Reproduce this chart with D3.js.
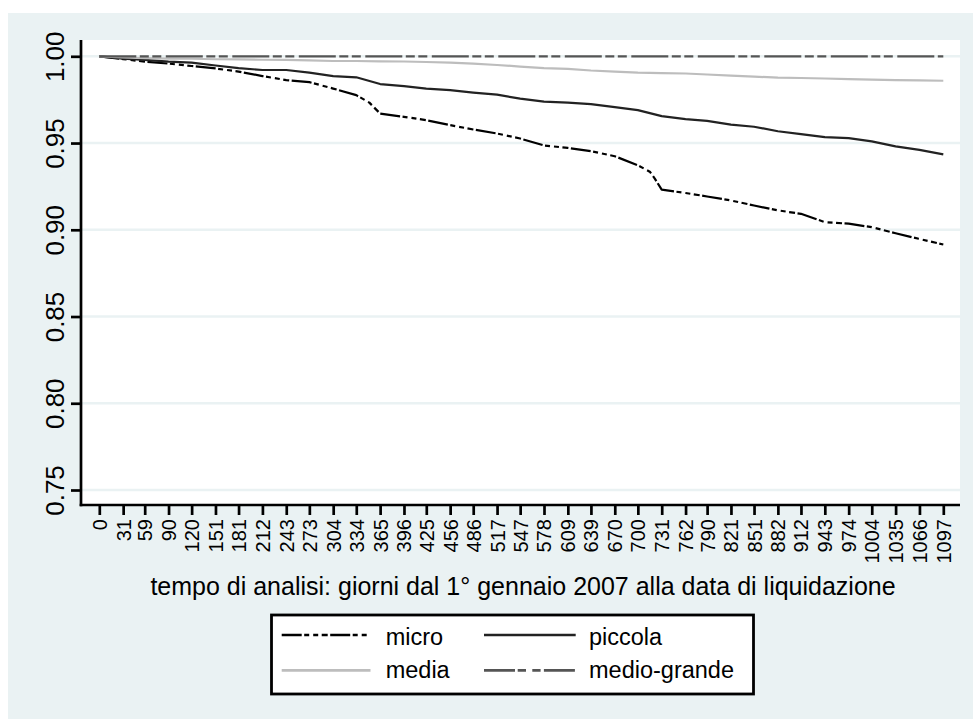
<!DOCTYPE html>
<html>
<head>
<meta charset="utf-8">
<script src="https://cdn.jsdelivr.net/npm/d3@7"></script>
<style>
  html, body { margin: 0; padding: 0; background: #fff; }
  svg { display: block; font-family: "Liberation Sans", Arial, sans-serif; }
</style>
</head>
<body>
<svg id="chart" width="973" height="719"></svg>
<script>
// ---- data ----
const tickDays = [0,31,59,90,120,151,181,212,243,273,304,334,365,396,425,456,486,517,547,578,609,639,670,700,731,762,790,821,851,882,912,943,974,1004,1035,1066,1097];
const tickLabels = ["0","31","59","90","120","151","181","212","243","273","304","334","365","396","425","456","486","517","547","578","609","639","670","700","731","762","790","821","851","882","912","943","974","1004","1035","1066","1097"];
const yTicks = [0.75, 0.80, 0.85, 0.90, 0.95, 1.00];

const microDays = [0,31,59,90,120,151,181,212,243,273,304,334,351,365,396,425,456,486,517,547,578,609,639,670,700,716,722,731,762,790,821,851,882,912,943,974,1004,1035,1065,1097];
const microVals = [1.0,0.9984,0.9969,0.9958,0.9944,0.993,0.9912,0.9886,0.9863,0.9851,0.9814,0.9776,0.9733,0.967,0.9651,0.9632,0.9603,0.9578,0.9555,0.9526,0.9486,0.9472,0.9453,0.9424,0.9372,0.9333,0.9295,0.9231,0.9212,0.9192,0.9169,0.914,0.9112,0.9092,0.9044,0.9035,0.9015,0.898,0.8948,0.8915];

const piccolaDays = tickDays;
const piccolaVals = [1.0,0.9987,0.9979,0.9969,0.9964,0.9947,0.9932,0.9921,0.9921,0.9906,0.9886,0.9879,0.984,0.9828,0.9814,0.9805,0.9791,0.9779,0.9756,0.9739,0.9733,0.9724,0.9707,0.969,0.9655,0.9638,0.9628,0.9606,0.9594,0.9568,0.9551,0.9534,0.9528,0.951,0.9481,0.9461,0.9435];

const mediaDays = tickDays;
const mediaVals = [1.0,0.9993,0.999,0.9987,0.9986,0.9983,0.9982,0.998,0.9979,0.9976,0.9973,0.9973,0.9971,0.997,0.9967,0.9964,0.9958,0.995,0.9941,0.9932,0.9927,0.9918,0.9912,0.9906,0.9903,0.9901,0.9895,0.9889,0.9883,0.9877,0.9875,0.9872,0.9869,0.9866,0.9863,0.9861,0.9859];

const grandeDays = [0, 1097];
const grandeVals = [1.0, 1.0];

const seriesNames = ["micro", "piccola", "media", "medio-grande"];
const xTitle = "tempo di analisi: giorni dal 1° gennaio 2007 alla data di liquidazione";

// ---- styles ----
const styles = {
  "micro":        { color: "#000000", dash: "20,2.5,5,4,5,3.5,6,2.5", legDash: "20,2.5,5,4,5,3.5,6,2.5" },
  "piccola":      { color: "#222222", dash: null, legDash: null },
  "media":        { color: "#bdbdbd", dash: null, legDash: null },
  "medio-grande": { color: "#555555", dash: "37,3.5,9,3.5,9,4.5", legDash: "31,2.7,8.3,6.3,8.3,3.3" }
};

const series = [
  { name: "micro", days: microDays, vals: microVals },
  { name: "piccola", days: piccolaDays, vals: piccolaVals },
  { name: "media", days: mediaDays, vals: mediaVals },
  { name: "medio-grande", days: grandeDays, vals: grandeVals }
];

// ---- layout ----
const W = 973, H = 719;
const plot = { left: 81, right: 960, top: 40, bottom: 505 };
const svg = d3.select("#chart");

svg.append("rect").attr("x", 0).attr("y", 0).attr("width", W).attr("height", H).attr("fill", "#ffffff");
svg.append("rect").attr("x", 8).attr("y", 13).attr("width", W - 8).attr("height", H - 13).attr("fill", "#eaf2f3");
svg.append("rect").attr("x", plot.left).attr("y", plot.top)
  .attr("width", plot.right - plot.left).attr("height", plot.bottom - plot.top).attr("fill", "#ffffff");

// x: day 0 at 99.3 px, day 1097 at 943.3 px
const pxPerDay = (943.3 - 99.3) / 1097;
const x = d3.scaleLinear()
  .domain([(plot.left - 99.3) / pxPerDay, (plot.right - 99.3) / pxPerDay])
  .range([plot.left, plot.right]);
const y = d3.scaleLinear().domain([0.75, 1.0]).range([490, 56.3]);

// gridlines
svg.append("g").selectAll("line").data(yTicks).join("line")
  .attr("x1", plot.left).attr("x2", plot.right)
  .attr("y1", d => y(d)).attr("y2", d => y(d))
  .attr("stroke", "#eaf2f3").attr("stroke-width", 2.5);

// lines
const lineGen = d3.line().x(d => x(d[0])).y(d => y(d[1]));
const gLines = svg.append("g");
series.forEach(s => {
  const pts = s.days.map((d, i) => [d, s.vals[i]]);
  const st = styles[s.name];
  gLines.append("path")
    .attr("d", lineGen(pts))
    .attr("fill", "none")
    .attr("stroke", st.color)
    .attr("stroke-width", 2.2)
    .attr("stroke-dasharray", st.dash)
    .attr("stroke-linejoin", "round");
});

// y axis
const yAxis = d3.axisLeft(y).tickValues(yTicks).tickFormat(d3.format(".2f")).tickSize(10).tickSizeOuter(0);
const gy = svg.append("g").attr("transform", `translate(${plot.left},0)`).call(yAxis);
gy.select(".domain").remove();
gy.selectAll(".tick line").attr("stroke", "#000").attr("stroke-width", 2.7);
gy.selectAll(".tick text")
  .attr("x", 0).attr("dy", 0)
  .attr("transform", "translate(-17.5,0) rotate(-90)")
  .attr("text-anchor", "middle")
  .attr("font-size", 26)
  .attr("font-family", "'Liberation Sans', Arial, sans-serif")
  .attr("fill", "#000");
svg.append("line").attr("x1", plot.left).attr("x2", plot.left)
  .attr("y1", plot.top).attr("y2", plot.bottom + 1.3)
  .attr("stroke", "#000").attr("stroke-width", 2.7);

// x axis
const xAxis = d3.axisBottom(x).tickValues(tickDays).tickFormat((d, i) => tickLabels[i]).tickSize(10).tickSizeOuter(0);
const gx = svg.append("g").attr("transform", `translate(0,${plot.bottom})`).call(xAxis);
gx.select(".domain").remove();
gx.selectAll(".tick line").attr("stroke", "#000").attr("stroke-width", 2.7);
gx.selectAll(".tick text")
  .attr("y", 0).attr("dy", 0)
  .attr("transform", "translate(7,14) rotate(-90)")
  .attr("text-anchor", "end")
  .attr("font-size", 20)
  .attr("font-family", "'Liberation Sans', Arial, sans-serif")
  .attr("fill", "#000");
svg.append("line").attr("x1", plot.left - 1.3).attr("x2", plot.right)
  .attr("y1", plot.bottom).attr("y2", plot.bottom)
  .attr("stroke", "#000").attr("stroke-width", 2.7);

// x title
svg.append("text").attr("x", 523).attr("y", 595)
  .attr("text-anchor", "middle").attr("font-size", 25).attr("fill", "#000")
  .text(xTitle);

// legend
const leg = svg.append("g");
leg.append("rect").attr("x", 271.5).attr("y", 615).attr("width", 482).attr("height", 79)
  .attr("fill", "#ffffff").attr("stroke", "#000").attr("stroke-width", 2.8);
const legPos = [
  { name: "micro", x1: 281.7, x2: 367.7, ly: 635, tx: 385.7, ty: 644.5 },
  { name: "piccola", x1: 484, x2: 575.7, ly: 635, tx: 589, ty: 644.5 },
  { name: "media", x1: 281.7, x2: 370.5, ly: 670.3, tx: 385.7, ty: 678 },
  { name: "medio-grande", x1: 484, x2: 575.7, ly: 670.3, tx: 589, ty: 678 }
];
legPos.forEach(p => {
  const st = styles[p.name];
  leg.append("line").attr("x1", p.x1).attr("x2", p.x2).attr("y1", p.ly).attr("y2", p.ly)
    .attr("stroke", st.color).attr("stroke-width", 2.7).attr("stroke-dasharray", st.legDash);
  leg.append("text").attr("x", p.tx).attr("y", p.ty).attr("font-size", 23.5).attr("fill", "#000").text(p.name);
});
</script>
</body>
</html>
